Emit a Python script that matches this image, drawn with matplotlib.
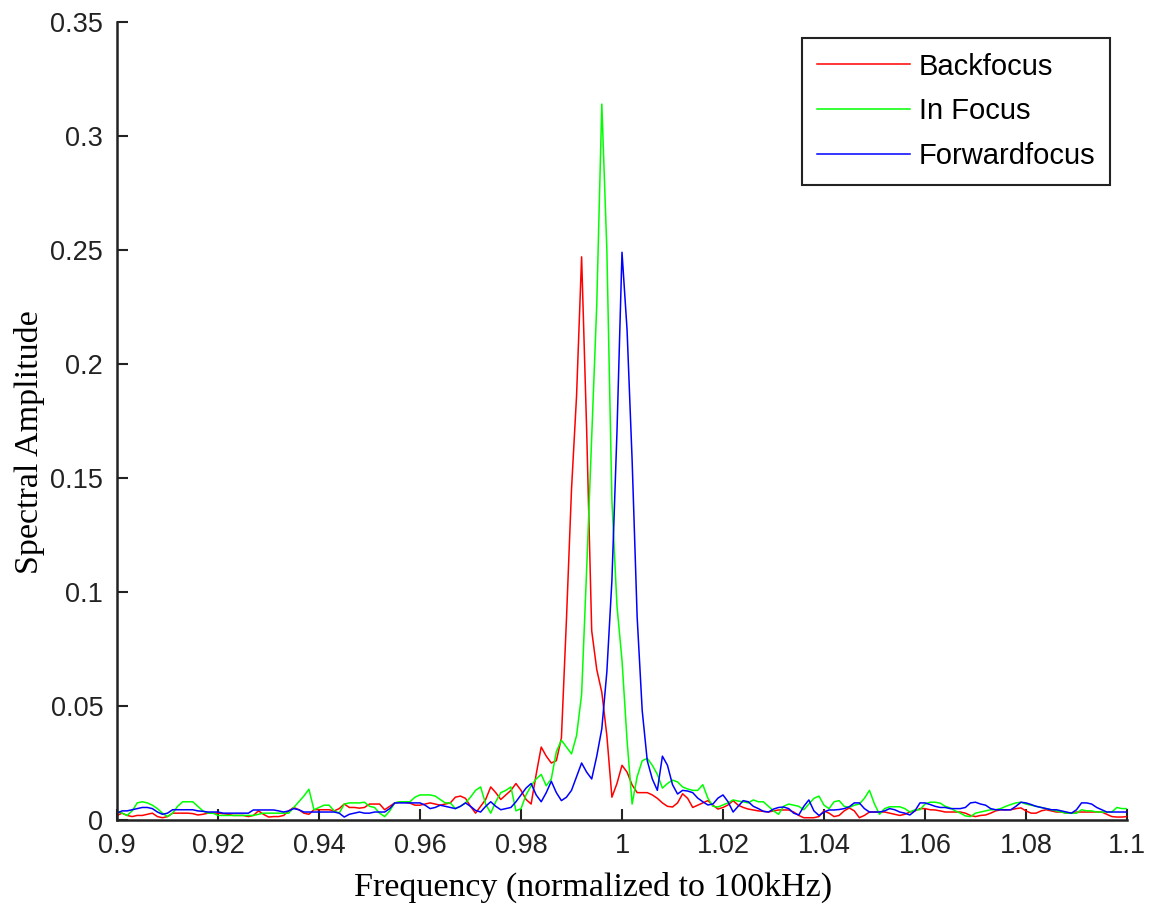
import numpy as np
import matplotlib
matplotlib.use('agg')
import matplotlib.pyplot as plt

# spectra sampled every 0.001 from 0.9 to 1.1 (normalized frequency)
f_start = 0.9
f_step = 0.001

backfocus = [
    .002, .003, .002, .0015, .002, .002, .0025, .003, .0015, .001,
    .0015, .003, .003, .003, .003, .0028, .0022, .0025, .003, .003,
    .003, .0028, .0025, .002, .002, .002, .0015, .002, .004, .0025,
    .0013, .0015, .0015, .002, .004, .0055, .0045, .003, .0025, .0045,
    .0045, .0045, .0045, .004, .005, .007, .0055, .0055, .0052, .0055,
    .007, .007, .007, .0045, .006, .0075, .0078, .0078, .0074, .0065,
    .0065, .007, .0075, .007, .0065, .007, .0075, .01, .0105, .0095,
    .006, .003, .006, .009, .0145, .012, .009, .011, .013, .016,
    .013, .009, .007, .02, .032, .028, .025, .026, .036, .088,
    .145, .186, .247, .171, .083, .066, .056, .037, .01, .016,
    .024, .021, .0154, .012, .012, .012, .011, .0095, .0075, .006,
    .0057, .0075, .0115, .0095, .0055, .0065, .0075, .0085, .0065, .0048,
    .0055, .0066, .0085, .0065, .0055, .0048, .0044, .004, .0038, .0035,
    .004, .0044, .0044, .0044, .0035, .002, .001, .001, .001, .0015,
    .004, .003, .0015, .002, .004, .0053, .004, .001, .002, .0035,
    .0035, .0035, .0035, .003, .0025, .002, .0025, .0035, .004, .005,
    .005, .0045, .0044, .004, .0035, .0035, .0035, .0035, .003, .002,
    .0015, .002, .0022, .003, .004, .0045, .0045, .0045, .005, .0053,
    .004, .003, .003, .004, .0045, .004, .0035, .0035, .003, .003,
    .0035, .0035, .0035, .0035, .0035, .0035, .0025, .0015, .0013, .0013,
    .0015,
]

in_focus = [
    .004, .003, .002, .004, .0075, .008, .0075, .0065, .005, .003,
    .0015, .003, .006, .008, .008, .008, .006, .004, .003, .003,
    .002, .002, .002, .002, .002, .002, .002, .002, .0025, .003,
    .003, .003, .003, .003, .003, .0055, .008, .0105, .0135, .0045,
    .0055, .0065, .0065, .004, .003, .007, .0075, .0075, .0075, .0078,
    .006, .0055, .003, .0015, .004, .0075, .008, .008, .008, .01,
    .011, .011, .011, .0105, .009, .0075, .0075, .005, .006, .0075,
    .01, .013, .0145, .007, .003, .008, .012, .013, .0145, .004,
    .005, .011, .015, .018, .020, .015, .018, .030, .035, .032,
    .029, .037, .055, .11, .168, .226, .314, .25, .14, .094,
    .07, .035, .007, .019, .026, .027, .024, .020, .014, .016,
    .0175, .0167, .0145, .0136, .013, .013, .0155, .0096, .006, .0057,
    .0066, .0075, .0088, .0083, .008, .0075, .0088, .008, .008, .006,
    .004, .0025, .006, .007, .0065, .006, .0045, .007, .0095, .0105,
    .0065, .005, .008, .0085, .006, .0055, .0065, .007, .0095, .013,
    .007, .0025, .005, .0058, .0058, .0058, .005, .0035, .0045, .0045,
    .007, .0078, .0078, .0074, .006, .0053, .004, .003, .0018, .0015,
    .003, .0035, .004, .0045, .0045, .005, .006, .0068, .0075, .0078,
    .007, .0065, .006, .0055, .005, .0045, .004, .0035, .003, .003,
    .003, .0045, .004, .004, .0035, .0035, .0035, .0035, .0055, .005,
    .005,
]

forwardfocus = [
    .003, .004, .004, .0045, .005, .0055, .0055, .005, .0035, .0025,
    .003, .0045, .0045, .0045, .0045, .0045, .004, .0038, .0035, .0035,
    .0035, .003, .003, .003, .003, .003, .003, .0044, .0044, .0044,
    .0044, .0044, .004, .0035, .004, .005, .0045, .0035, .0035, .0035,
    .0035, .0035, .0035, .0035, .003, .0013, .0025, .003, .0035, .003,
    .003, .0035, .0035, .0035, .005, .0075, .0075, .0075, .0075, .0075,
    .0075, .0065, .005, .0055, .0065, .006, .0055, .005, .006, .0075,
    .006, .0042, .0035, .006, .008, .006, .0045, .005, .0055, .008,
    .011, .014, .016, .011, .008, .012, .017, .012, .0085, .010,
    .013, .019, .025, .021, .018, .028, .04, .065, .105, .17,
    .249, .215, .158, .089, .048, .026, .018, .013, .028, .024,
    .0155, .0114, .013, .0127, .012, .0096, .008, .0066, .007, .0096,
    .011, .008, .0035, .006, .0085, .008, .006, .005, .0038, .0035,
    .0048, .0055, .0057, .005, .003, .0022, .006, .0088, .004, .002,
    .0035, .0044, .0044, .0046, .005, .0058, .0075, .0075, .005, .0035,
    .0035, .0035, .004, .005, .0045, .0035, .003, .0022, .004, .0075,
    .0075, .0068, .006, .0055, .0055, .005, .005, .005, .0055, .0075,
    .0078, .007, .0065, .005, .0045, .0045, .0044, .0045, .006, .0078,
    .0075, .0068, .006, .0055, .005, .0045, .0045, .004, .0035, .003,
    .0045, .0075, .0075, .007, .0055, .0045, .0035, .0035, .0035, .0035,
    .0035,
]

labels = ['Backfocus', 'In Focus', 'Forwardfocus']
colors = ['#ff0000', '#00ff00', '#0000ff']

x_ticks = [0.9, 0.92, 0.94, 0.96, 0.98, 1.0, 1.02, 1.04, 1.06, 1.08, 1.1]
x_ticklabels = ['0.9', '0.92', '0.94', '0.96', '0.98', '1', '1.02', '1.04', '1.06', '1.08', '1.1']
y_ticks = [0, 0.05, 0.1, 0.15, 0.2, 0.25, 0.3, 0.35]
y_ticklabels = ['0', '0.05', '0.1', '0.15', '0.2', '0.25', '0.3', '0.35']

fig = plt.figure(figsize=(11.54, 9.16), dpi=100)
ax = fig.add_axes([0.1014, 0.1048, 0.8752, 0.8712])

for y, lab, col in zip([backfocus, in_focus, forwardfocus], labels, colors):
    freq = f_start + f_step * np.arange(len(y))
    ax.plot(freq, y, color=col, lw=1.1, label=lab)

ax.set_xlim(0.9, 1.1)
ax.set_ylim(0, 0.35)
ax.set_xticks(x_ticks)
ax.set_xticklabels(x_ticklabels, family='Liberation Sans', size=19.5)
ax.set_yticks(y_ticks)
ax.set_yticklabels(y_ticklabels, family='Liberation Sans', size=19.5)
ax.tick_params(direction='in', length=8, width=1.5, colors='#222222')
ax.tick_params(axis='y', pad=10)
ax.tick_params(axis='x', pad=9)

for side in ['top', 'right']:
    ax.spines[side].set_visible(False)
for side in ['left', 'bottom']:
    ax.spines[side].set_linewidth(1.8)
    ax.spines[side].set_color('#222222')

ax.set_xlabel('Frequency (normalized to 100kHz)', family='Liberation Serif', size=24.5)
ax.set_ylabel('Spectral Amplitude', family='Liberation Serif', size=24.5)
ax.xaxis.label.set_va('center')
ax.yaxis.label.set_va('center')
ax.xaxis.set_label_coords(0.471, -0.084)
ax.yaxis.set_label_coords(-0.0865, 0.4737)

leg = ax.legend(loc='upper right', bbox_to_anchor=(0.9832, 0.98), prop={'family': 'Liberation Sans', 'size': 21},
                fancybox=False, framealpha=1, edgecolor='#222222', handlelength=3.2,
                handletextpad=0.3, borderpad=0.5, labelspacing=0.58, borderaxespad=0)
leg.get_frame().set_linewidth(1.5)

fig.savefig('out.png', dpi=100)
